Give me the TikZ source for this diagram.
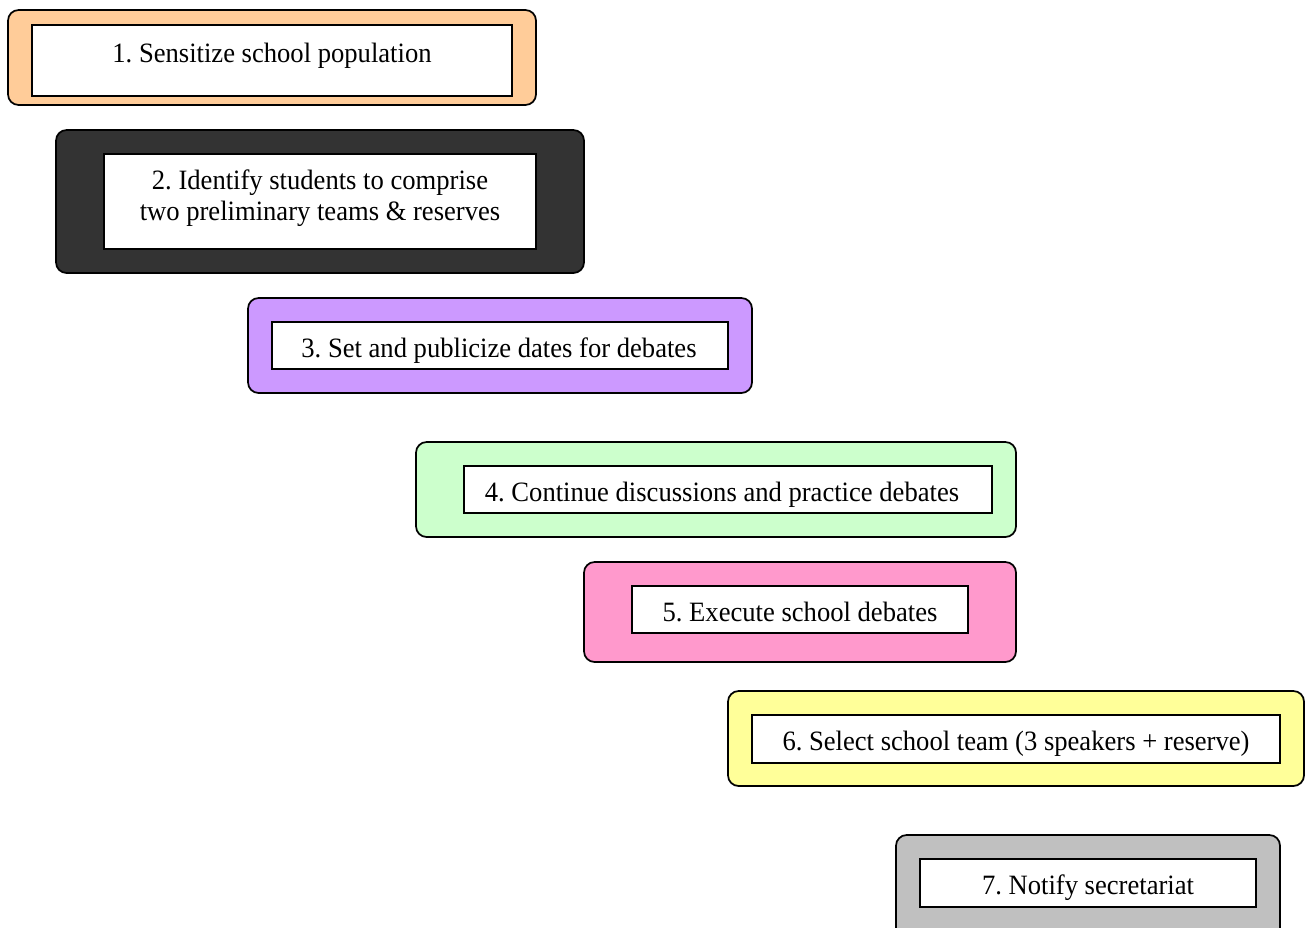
\documentclass[tikz,border=0pt]{standalone}
\usepackage{fontspec}
\setmainfont[FakeStretch=0.95]{Liberation Serif}
\frenchspacing
\definecolor{cpeach}{HTML}{FFCC99}
\definecolor{cdark}{HTML}{333333}
\definecolor{cpurple}{HTML}{CC99FF}
\definecolor{cmint}{HTML}{CCFFCC}
\definecolor{cpink}{HTML}{FF99CC}
\definecolor{cyellow}{HTML}{FFFF99}
\definecolor{cgray}{HTML}{C0C0C0}
\tikzset{
  outerbox/.style={draw=black, line width=1.3pt, rounded corners=8pt},
  innerbox/.style={draw=black, fill=white, line width=1.2pt},
  steptext/.style={anchor=base, inner sep=0pt, font=\fontsize{21}{24}\selectfont\frenchspacing}
}
\begin{document}
\begin{tikzpicture}[x=0.75pt, y=-0.75pt]
\useasboundingbox (0,0) rectangle (1310,928);
\fill[white] (0,0) rectangle (1310,928);

% Box 1
\path[outerbox, fill=cpeach] (8,10) rectangle (536,105);
\path[innerbox] (32,25) rectangle (512,96);
\begin{scope}\clip (32,25) rectangle (512,96);
\node[steptext] (t1) at (272,62) {1. Sensitize school population};
\end{scope}

% Box 2
\path[outerbox, fill=cdark] (56,130) rectangle (584,273);
\path[innerbox] (104,154) rectangle (536,249);
\begin{scope}\clip (104,154) rectangle (536,249);
\node[steptext] (t2a) at (320,189) {2. Identify students to comprise};
\node[steptext] (t2b) at (320,220) {two preliminary teams \& reserves};
\end{scope}

% Box 3
\path[outerbox, fill=cpurple] (248,298) rectangle (752,393);
\path[innerbox] (272,322) rectangle (728,369);
\begin{scope}\clip (272,322) rectangle (728,364.5);
\node[steptext] (t3) at (499,357.5) {3. Set and publicize dates for debates};
\end{scope}

% Box 4
\path[outerbox, fill=cmint] (416,442) rectangle (1016,537);
\path[innerbox] (464,466) rectangle (992,513);
\begin{scope}\clip (464,466) rectangle (992,508.5);
\node[steptext] (t4) at (722,501) {4. Continue discussions and practice debates};
\end{scope}

% Box 5
\path[outerbox, fill=cpink] (584,562) rectangle (1016,662);
\path[innerbox] (632,586) rectangle (968,633);
\begin{scope}\clip (632,586) rectangle (968,632);
\node[steptext] (t5) at (800,621) {5. Execute school debates};
\end{scope}

% Box 6
\path[outerbox, fill=cyellow] (728,691) rectangle (1304,786);
\path[innerbox] (752,715) rectangle (1280,763);
\begin{scope}\clip (752,715) rectangle (1280,762);
\node[steptext] (t6) at (1016,750) {6. Select school team (3 speakers + reserve)};
\end{scope}

% Box 7 (cut off at bottom)
\begin{scope}\clip (0,0) rectangle (1310,928);
\path[outerbox, fill=cgray] (896,835) rectangle (1280,945);
\end{scope}
\path[innerbox] (920,859) rectangle (1256,907);
\begin{scope}\clip (920,859) rectangle (1256,900.5);
\node[steptext] (t7) at (1088,894) {7. Notify secretariat};
\end{scope}
\end{tikzpicture}
\end{document}
